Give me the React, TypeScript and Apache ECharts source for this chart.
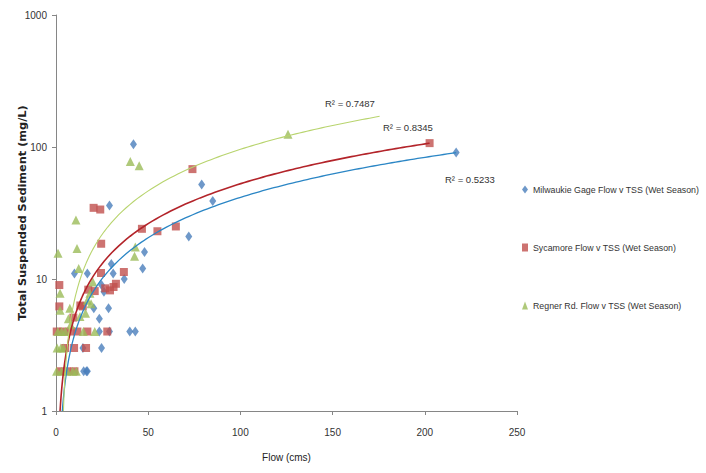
import React, { useEffect, useRef } from "react";
import * as echarts from "echarts";

// ---- Data ----
const milwaukieFlow = [217, 85, 79, 72, 42, 29, 48, 47, 43, 40, 37, 31, 30, 24.7, 28.5, 20.5, 23.5, 23.5, 29, 24.7, 14.6, 17, 10, 15, 16.5, 17, 26];
const milwaukieTss = [91, 39, 52, 21, 105, 36, 16, 12, 4, 4, 10, 11, 13, 9, 6, 6, 5, 4, 4, 3, 3, 11, 11, 2, 2, 2, 8];

const sycamoreFlow = [202.6, 74, 65, 55, 46.6, 24.5, 20.4, 24, 36.8, 32.5, 29.3, 24.4, 17.5, 21, 14.5, 9.4, 1.8, 1.8, 0.4, 11.6, 17, 27.8, 9.8, 16.3, 2.2, 6, 10, 13.2, 26.7, 31.2, 5, 4, 8];
const sycamoreTss = [107, 68, 25, 23, 24, 18.5, 34.6, 33.6, 11.3, 9.2, 8.2, 11.1, 8.3, 8.1, 6.2, 5.1, 9, 6.2, 4, 4, 4, 4, 3, 3, 2, 2, 2, 6.3, 8.5, 8.7, 3, 4, 4];

const regnerFlow = [125.8, 40.3, 45.1, 43, 42.6, 10.8, 11.4, 1.1, 12.3, 2.2, 2.2, 18.4, 17, 6.7, 13, 16, 19, 21, 14.8, 1, 3, 5, 0.6, 2.6, 4, 0.3, 3, 6, 9, 11, 8, 20, 7.5];
const regnerTss = [125, 77.6, 72, 17.5, 14.9, 28, 17, 15.7, 12, 7.8, 5.8, 7.8, 6.9, 5, 5.2, 5.5, 6.5, 4, 4, 4, 4, 4, 3, 3, 3, 2, 2, 2, 2, 2, 4.5, 9.5, 6];

const seriesNames = [
  "Milwaukie Gage Flow v TSS (Wet Season)",
  "Sycamore Flow v TSS (Wet Season)",
  "Regner Rd. Flow v TSS (Wet Season)",
];

// Linear trendlines (y = slope * x + intercept)
const trendSlope = [0.4195, 0.5285, 0.99];
const trendIntercept = [-0.43, -0.163, -3.0];
const trendEnd = [217, 202.6, 175.5];
const trendR2 = ["R² = 0.5233", "R² = 0.8345", "R² = 0.7487"];

const xTicks = [0, 50, 100, 150, 200, 250];

const FONT = '"Liberation Sans", Arial, sans-serif';

function pairs(xs: number[], ys: number[]) {
  return xs.map((x, i) => [x, ys[i]]);
}

function trendPoints(i: number) {
  const m = trendSlope[i];
  const c = trendIntercept[i];
  const start = (1 - c) / m;
  const pts: number[][] = [];
  let x = start;
  while (x < trendEnd[i]) {
    pts.push([x, m * x + c]);
    x += x < 20 ? 0.25 : 2;
  }
  pts.push([trendEnd[i], m * trendEnd[i] + c]);
  return pts;
}

export default function App() {
  const ref = useRef<HTMLDivElement>(null);
  useEffect(() => {
    if (!ref.current) return;
    const chart = echarts.init(ref.current, undefined, { renderer: "svg" });
    const markerColors = ["#4A7EBB", "#C0504D", "#9BBB59"];
    const lineColors = ["#2B86C5", "#B3242A", "#B8D46E"];
    const lineWidths = [1.3, 1.6, 1.1];
    const symbols = ["diamond", "rect", "triangle"];
    const symbolSizes: any[] = [[7, 10], 8, 9];
    const data = [
      pairs(milwaukieFlow, milwaukieTss),
      pairs(sycamoreFlow, sycamoreTss),
      pairs(regnerFlow, regnerTss),
    ];
    const scatter = data.map((d, i) => ({
      name: seriesNames[i],
      type: "scatter",
      symbol: symbols[i],
      symbolSize: symbolSizes[i],
      itemStyle: { color: markerColors[i] },
      data: d,
      z: 2 + i,
    }));
    const trends = [0, 1, 2].map((i) => ({
      name: "trend" + i,
      type: "line",
      showSymbol: false,
      symbol: "none",
      silent: true,
      clip: true,
      lineStyle: { color: lineColors[i], width: lineWidths[i] },
      data: trendPoints(i),
      z: 10,
    }));
    const labelPos = [
      [445, 174],
      [383, 122],
      [325, 98],
    ];
    chart.setOption({
      animation: false,
      backgroundColor: "#ffffff",
      textStyle: { fontFamily: FONT },
      grid: { left: 56, top: 15, width: 461, height: 396, containLabel: false },
      xAxis: {
        type: "value",
        min: xTicks[0],
        max: xTicks[xTicks.length - 1],
        interval: xTicks[1] - xTicks[0],
        axisLine: { show: true, lineStyle: { color: "#868686", width: 1 } },
        axisTick: { show: true, length: 4, lineStyle: { color: "#868686" } },
        splitLine: { show: false },
        axisLabel: { fontSize: 10, color: "#333", margin: 16, fontFamily: FONT },
        name: "Flow (cms)",
        nameLocation: "middle",
        nameGap: 41,
        nameMoveOverlap: false,
        nameTextStyle: { fontSize: 10, color: "#222", fontFamily: FONT },
      },
      yAxis: {
        type: "log",
        logBase: 10,
        min: 1,
        max: 1000,
        axisLine: { show: true, lineStyle: { color: "#868686", width: 1 } },
        axisTick: { show: true, length: 4, lineStyle: { color: "#868686" } },
        minorTick: { show: false },
        splitLine: { show: false },
        axisLabel: {
          fontSize: 10,
          color: "#333",
          margin: 9,
          fontFamily: FONT,
          formatter: (v: number) => String(v),
        },
        name: "Total Suspended Sediment (mg/L)",
        nameLocation: "middle",
        nameGap: 28,
        nameMoveOverlap: false,
        nameTextStyle: {
          fontSize: 11.3,
          fontWeight: "bold",
          color: "#222",
          fontFamily: '"DejaVu Sans", Verdana, sans-serif',
        },
      },
      legend: {
        data: seriesNames,
        orient: "vertical",
        left: 517,
        top: 180,
        itemGap: 49,
        itemWidth: 6,
        itemHeight: 8,
        textStyle: { fontSize: 8.8, color: "#333", fontFamily: FONT },
      },
      graphic: trendR2.map((t, i) => ({
        type: "text",
        left: labelPos[i][0],
        top: labelPos[i][1],
        style: { text: t, fontSize: 9.5, fill: "#333", fontFamily: FONT },
      })),
      series: [...scatter, ...trends],
    });
    return () => chart.dispose();
  }, []);
  return (
    <div
      ref={ref}
      style={{ position: "fixed", left: 0, top: 0, width: 706, height: 473 }}
    />
  );
}
